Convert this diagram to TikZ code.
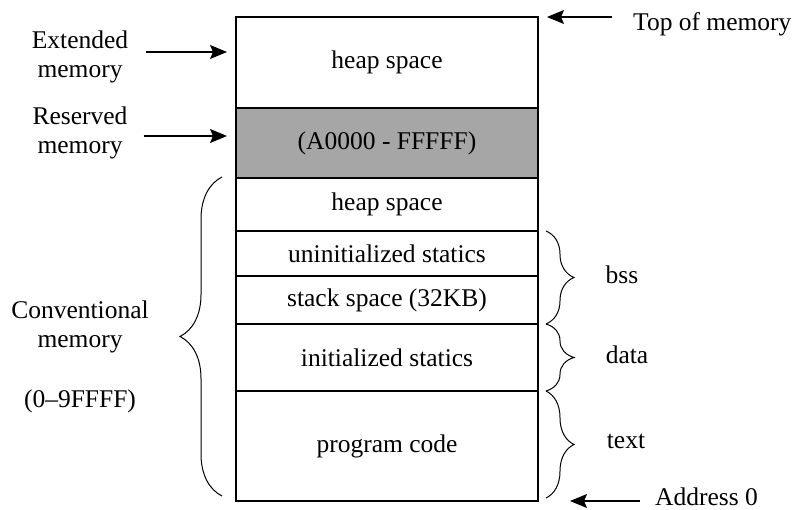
\documentclass[tikz,border=0pt]{standalone}
\usepackage{fontspec}
\setmainfont{Liberation Serif}
\usetikzlibrary{positioning,arrows.meta,decorations.pathreplacing}

\begin{document}
\begin{tikzpicture}[x=1pt,y=-1pt,node distance=0pt,>={Stealth[length=17pt,width=14pt,inset=3pt]},
    font=\fontsize{25.5}{29}\selectfont]
  \tikzstyle{seg}=[draw,line width=1.2pt,minimum width=302pt,inner sep=0pt,outer sep=0pt]
  \tikzstyle{lbl}=[align=center,inner sep=2pt]
  \tikzstyle{brace}=[decorate,decoration={brace,amplitude=28pt},line width=1pt]
  \tikzstyle{pointer}=[->,line width=1.2pt]
  \useasboundingbox (0,0) rectangle (796,510);

  % memory segments
  \node [seg,minimum height=91pt] (heap) at (387,62.5) {heap space};
  \node [seg,minimum height=70pt,fill=black!35] (resv) [below=of heap] {(A0000 - FFFFF)};
  \node [seg,minimum height=53pt] (heaplow) [below=of resv] {heap space};
  \node [seg,minimum height=45pt] (uninit) [below=of heaplow] {uninitialized statics};
  \node [seg,minimum height=48pt] (stack) [below=of uninit] {stack space (32KB)};
  \node [seg,minimum height=67pt] (init) [below=of stack] {initialized statics};
  \node [seg,minimum height=110pt] (code) [below=of init] {program code};
  \draw [line width=2.5pt] (heap.north west) rectangle (code.south east);

  % left side
  \node [lbl] (ext) at (80,57) {Extended\\memory};
  \node [lbl] (rsv) at (80,133) {Reserved\\memory};
  \node [lbl] (conv) at (80,327) {Conventional\\memory};
  \node [lbl] (range) at (80,401) {(0--9FFFF)};
  \draw [pointer,shorten <=16pt,shorten >=9pt] ([yshift=5pt]ext.east) -- ([yshift=5pt]ext.east -| heap.west);
  \draw [pointer,shorten <=14pt,shorten >=9pt] ([yshift=-3pt]rsv.east) -- ([yshift=-3pt]rsv.east -| resv.west);
  \draw [brace,decoration={amplitude=42pt}] ([xshift=-14pt,yshift=5pt]code.south west) -- ([xshift=-14pt,yshift=1pt]heaplow.north west);

  % right side
  \draw [brace] ([xshift=8pt]uninit.north east) -- ([xshift=8pt]stack.south east);
  \draw [brace] ([xshift=8pt]init.north east) -- ([xshift=8pt]init.south east);
  \draw [brace] ([xshift=8pt]code.north east) -- ([xshift=8pt,yshift=3pt]code.south east);
  \node [lbl] (bss) at (622,275) {bss};
  \node [lbl] (data) at (627,355) {data};
  \node [lbl] (text) at (626,441) {text};
  \node [lbl,anchor=west] (top) at (631,24) {Top of memory};
  \node [lbl,anchor=west] (addr) at (653,497) {Address 0};
  \draw [pointer,shorten <=19pt,shorten >=9pt] (top.west |- heap.north) -- (heap.north east);
  \draw [pointer,shorten <=13pt,shorten >=32pt] (addr.west |- code.south) -- (code.south east);
\end{tikzpicture}
\end{document}
